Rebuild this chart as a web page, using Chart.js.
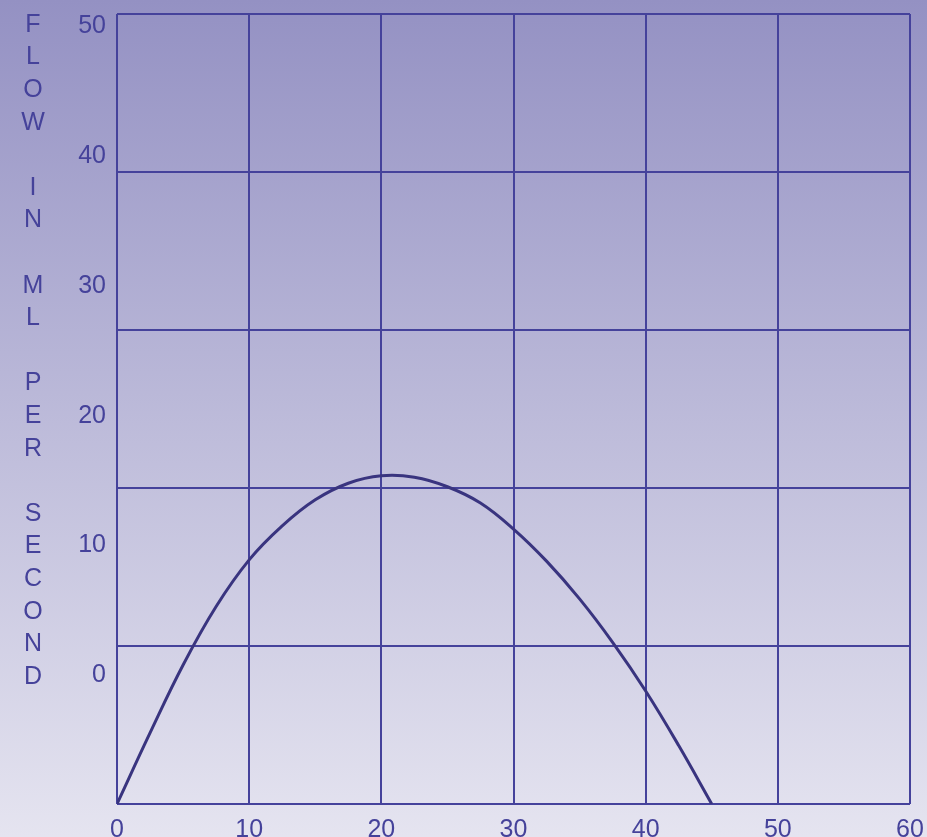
<!DOCTYPE html>
<html>
<head>
<meta charset="utf-8">
<script src="https://cdn.jsdelivr.net/npm/chart.js@4/dist/chart.umd.min.js"></script>
<style>
  html, body { margin: 0; padding: 0; }
  body { width: 927px; height: 837px; overflow: hidden;
         background: linear-gradient(to bottom, #9491c3 0%, #e5e4f0 100%); }
  #wrap { position: relative; width: 927px; height: 837px; }
</style>
</head>
<body>
<div id="wrap"><canvas id="c" width="927" height="837"></canvas></div>
<script>
// ---- data ----
const timeValues = [0, 2.5, 5, 7.5, 10, 12.5, 15, 17.5, 20, 22.5, 25, 27.5, 30, 32.5, 35, 37.5, 40, 42.5, 45];
const flowValues = [0, 4.5, 8.8, 12.5, 15.45, 17.6, 19.25, 20.3, 20.77, 20.68, 20.08, 19.05, 17.4, 15.37, 12.98, 10.23, 7.15, 3.7, 0];
const xTickLabels = [0, 10, 20, 30, 40, 50, 60];
const yTickLabels = [0, 10, 20, 30, 40, 50];
const yAxisTitle = "FLOW IN ML PER SECOND";

const INK = '#45429a';
const GRID = '#45429b';
const CURVE = '#39347f';
const FONT = "'Liberation Sans', Arial, sans-serif";

const verticalTitle = {
  id: 'verticalTitle',
  afterDraw(chart) {
    const ctx = chart.ctx;
    ctx.save();
    ctx.fillStyle = INK;
    ctx.font = '25px ' + FONT;
    ctx.textAlign = 'center';
    ctx.textBaseline = 'middle';
    const chars = yAxisTitle.split('');
    chars.forEach((ch, i) => {
      if (ch !== ' ') ctx.fillText(ch, 33, 25 + i * 32.6);
    });
    ctx.restore();
  }
};

const points = timeValues.map((t, i) => ({ x: t, y: flowValues[i] }));

new Chart(document.getElementById('c'), {
  type: 'line',
  data: {
    datasets: [{
      data: points,
      borderColor: CURVE,
      borderWidth: 3,
      pointRadius: 0,
      fill: false,
      tension: 0.4
    }]
  },
  options: {
    responsive: false,
    animation: false,
    layout: { padding: { left: 0, right: 17, top: 14, bottom: 0 } },
    plugins: { legend: { display: false }, tooltip: { enabled: false } },
    scales: {
      x: {
        type: 'linear', min: 0, max: 60,
        grid: { color: GRID, lineWidth: 2, drawTicks: false },
        border: { display: false },
        ticks: {
          stepSize: 10, color: INK, padding: 11,
          font: { size: 25, family: FONT },
          maxRotation: 0,
          callback: (v) => xTickLabels.includes(v) ? String(v) : ''
        },
        afterFit: (s) => { s.height = 33; s.paddingLeft = 0; s.paddingRight = 0; }
      },
      y: {
        type: 'linear', position: 'right', min: 0, max: 50,
        grid: { color: GRID, lineWidth: 2, drawTicks: false },
        border: { display: false },
        ticks: { stepSize: 10, display: false },
        afterFit: (s) => { s.width = 0; s.paddingTop = 0; s.paddingBottom = 0; }
      },
      yLab: {
        type: 'linear', position: 'left', min: -9.89, max: 50.92,
        grid: { display: false, drawTicks: false },
        border: { display: false },
        ticks: { color: INK, padding: 11, font: { size: 25, family: FONT } },
        afterBuildTicks: (s) => { s.ticks = yTickLabels.map(v => ({ value: v })); },
        afterFit: (s) => { s.width = 117; s.paddingTop = 0; s.paddingBottom = 0; }
      }
    }
  },
  plugins: [verticalTitle]
});
</script>
</body>
</html>
